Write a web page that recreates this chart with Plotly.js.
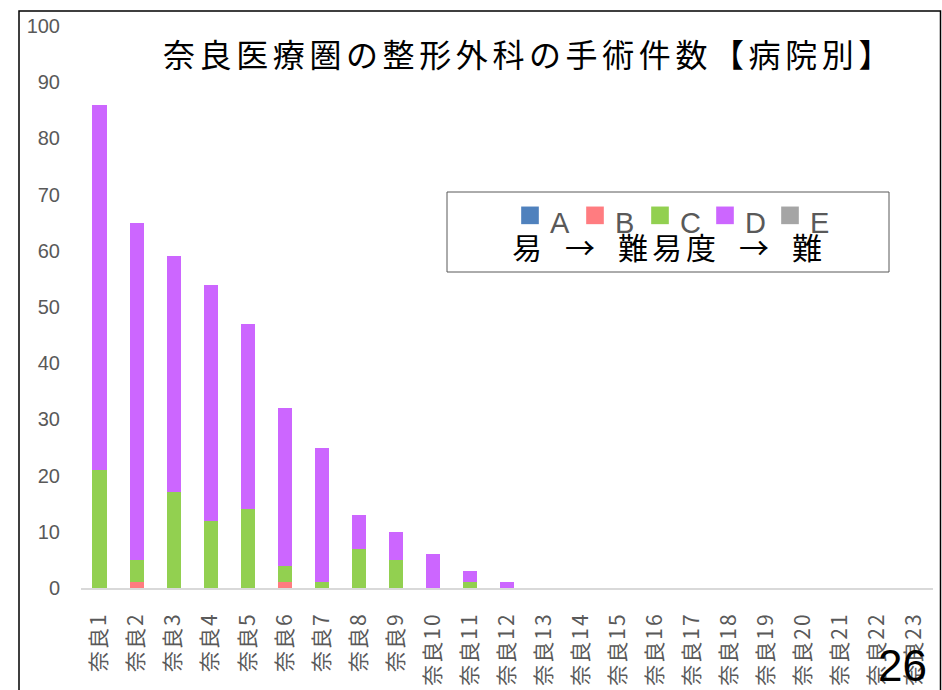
<!DOCTYPE html>
<html>
<head>
<meta charset="utf-8">
<script src="https://cdn.plot.ly/plotly-3.0.1.min.js"></script>
<style>
html,body{margin:0;padding:0;background:#fff;}
#chart{width:942px;height:690px;}
.gtitle{letter-spacing:4.6px;}
.annotation[data-index="0"] text{letter-spacing:4px;}
.xtick text{letter-spacing:2px;}
.legendpoints path{transform:translate(20px,0px) scale(1.47);}
.legendtext{transform:translateY(6px);}
</style>
</head>
<body>
<div id="chart"></div>
<script>
const categories = ['奈良1','奈良2','奈良3','奈良4','奈良5','奈良6','奈良7','奈良8','奈良9','奈良10','奈良11','奈良12','奈良13','奈良14','奈良15','奈良16','奈良17','奈良18','奈良19','奈良20','奈良21','奈良22','奈良23'];
const seriesNames = ['A','B','C','D','E'];
const seriesColors = ['#4F81BD','#FF7C80','#92D050','#CC66FF','#A5A5A5'];
const valuesA = [0,0,0,0,0,0,0,0,0,0,0,0,0,0,0,0,0,0,0,0,0,0,0];
const valuesB = [0,1,0,0,0,1,0,0,0,0,0,0,0,0,0,0,0,0,0,0,0,0,0];
const valuesC = [21,4,17,12,14,3,1,7,5,0,1,0,0,0,0,0,0,0,0,0,0,0,0];
const valuesD = [65,60,42,42,33,28,24,6,5,6,2,1,0,0,0,0,0,0,0,0,0,0,0];
const valuesE = [0,0,0,0,0,0,0,0,0,0,0,0,0,0,0,0,0,0,0,0,0,0,0];
const yTicks = [0,10,20,30,40,50,60,70,80,90,100];
const titleText = '奈良医療圏の整形外科の手術件数【病院別】';
const legendNote = '易\u2002→\u2002難易度\u2002→\u2002難';
const pageNumber = '26';

const allValues = [valuesA, valuesB, valuesC, valuesD, valuesE];
const traces = seriesNames.map((n, i) => ({
  type: 'bar',
  name: n,
  x: categories,
  y: allValues[i],
  marker: {color: seriesColors[i]},
  hoverinfo: 'skip'
}));

// plot area geometry (px) for paper-coordinate conversions
const L = 81, R = 9, T = 26, B = 102, W = 942, H = 690;
const pw = W - L - R, ph = H - T - B;
const px = x => (x - L) / pw;
const py = y => (H - B - y) / ph;

const layout = {
  width: W, height: H,
  margin: {l: L, r: R, t: T, b: B, pad: 0},
  paper_bgcolor: '#ffffff',
  plot_bgcolor: '#ffffff',
  barmode: 'stack',
  bargap: 0.62,
  font: {family: 'Noto Sans CJK JP, sans-serif', color: '#595959'},
  title: {
    text: titleText,
    font: {family: 'Noto Sans CJK JP', size: 32, color: '#000000'},
    xref: 'container', yref: 'container',
    x: 163 / W, xanchor: 'left',
    y: 1 - 56 / H, yanchor: 'middle'
  },
  xaxis: {
    type: 'category',
    tickvals: categories,
    ticktext: categories,
    tickangle: -90,
    ticks: '',
    ticklabelstandoff: 14,
    tickfont: {family: 'Noto Sans CJK JP', size: 21, color: '#595959'},
    showline: true, linecolor: '#d9d9d9', linewidth: 2,
    showgrid: false, zeroline: false,
    fixedrange: true
  },
  yaxis: {
    range: [0, 100],
    tickvals: yTicks,
    ticks: '',
    ticklabelstandoff: 20,
    tickfont: {family: 'Liberation Sans, Arial, sans-serif', size: 20, color: '#595959'},
    showline: false, showgrid: false, zeroline: false,
    fixedrange: true
  },
  showlegend: true,
  legend: {
    orientation: 'h',
    traceorder: 'normal',
    x: px(510), xanchor: 'left',
    y: py(190), yanchor: 'top',
    bgcolor: 'rgba(0,0,0,0)',
    borderwidth: 0,
    entrywidth: 20,
    font: {family: 'Liberation Sans, Arial, sans-serif', size: 29, color: '#595959'}
  },
  shapes: [
    {type: 'path', xref: 'paper', yref: 'paper',
     path: `M ${px(19)} ${py(700)} L ${px(19)} ${py(11)} L ${px(940.5)} ${py(11)} L ${px(940.5)} ${py(700)}`,
     line: {color: '#000000', width: 1.5}},
    {type: 'rect', xref: 'paper', yref: 'paper',
     x0: px(447), x1: px(889), y0: py(272), y1: py(192),
     line: {color: '#595959', width: 1}, fillcolor: 'rgba(0,0,0,0)'}
  ],
  annotations: [
    {text: legendNote, xref: 'paper', yref: 'paper', x: px(669), y: py(246),
     xanchor: 'center', yanchor: 'middle', showarrow: false,
     font: {family: 'Noto Sans CJK JP', size: 30, color: '#000000'}},
    {text: pageNumber, xref: 'paper', yref: 'paper', x: px(902), y: py(665),
     xanchor: 'center', yanchor: 'middle', showarrow: false,
     font: {family: 'Liberation Sans, Arial, sans-serif', size: 44, color: '#000000'}}
  ]
};

Plotly.newPlot('chart', traces, layout, {staticPlot: true, displayModeBar: false});
</script>
</body>
</html>
